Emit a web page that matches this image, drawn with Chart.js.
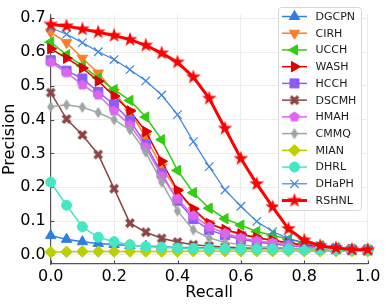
<!DOCTYPE html>
<html>
<head>
<meta charset="utf-8">
<script src="https://cdn.jsdelivr.net/npm/chart.js@4.4.1/dist/chart.umd.min.js"></script>
<style>
  html, body { margin: 0; padding: 0; background: #fff; }
  canvas { display: block; }
</style>
</head>
<body>
<canvas id="pr-chart" width="387" height="304"></canvas>
<script>
const recall = [0, 0.05, 0.1, 0.15, 0.2, 0.25, 0.3, 0.35, 0.4, 0.45, 0.5,
  0.55, 0.6, 0.65, 0.7, 0.75, 0.8, 0.85, 0.9, 0.95, 1.0];
const xTicks = [0, 0.2, 0.4, 0.6, 0.8, 1.0];
const yTicks = [0, 0.1, 0.2, 0.3, 0.4, 0.5, 0.6, 0.7];

const methods = ["DGCPN", "CIRH", "UCCH", "WASH", "HCCH", "DSCMH",
  "HMAH", "CMMQ", "MIAN", "DHRL", "DHaPH", "RSHNL"];

const dgcpn = [0.057, 0.046, 0.039, 0.034, 0.031, 0.028, 0.026, 0.024, 0.022, 0.021, 0.020,
  0.019, 0.018, 0.018, 0.017, 0.017, 0.016, 0.016, 0.015, 0.015, 0.015];
const cirh = [0.659, 0.628, 0.582, 0.538, 0.482, 0.423, 0.348, 0.260, 0.188, 0.132, 0.092,
  0.073, 0.060, 0.050, 0.042, 0.035, 0.028, 0.022, 0.018, 0.016, 0.015];
const ucch = [0.630, 0.592, 0.559, 0.524, 0.489, 0.457, 0.408, 0.341, 0.250, 0.184, 0.138,
  0.107, 0.088, 0.069, 0.058, 0.046, 0.036, 0.027, 0.021, 0.017, 0.015];
const wash = [0.610, 0.582, 0.553, 0.514, 0.470, 0.426, 0.365, 0.277, 0.191, 0.136, 0.093,
  0.075, 0.062, 0.051, 0.043, 0.036, 0.029, 0.023, 0.018, 0.016, 0.015];
const hcch = [0.576, 0.545, 0.522, 0.482, 0.445, 0.398, 0.327, 0.241, 0.160, 0.106, 0.074,
  0.058, 0.046, 0.038, 0.032, 0.028, 0.024, 0.020, 0.017, 0.015, 0.014];
const dscmh = [0.480, 0.402, 0.355, 0.297, 0.196, 0.094, 0.067, 0.049, 0.038, 0.030, 0.026,
  0.023, 0.021, 0.019, 0.018, 0.017, 0.016, 0.015, 0.015, 0.014, 0.014];
const hmah = [0.570, 0.539, 0.503, 0.473, 0.426, 0.384, 0.318, 0.233, 0.165, 0.116, 0.083,
  0.064, 0.050, 0.042, 0.036, 0.030, 0.025, 0.021, 0.018, 0.016, 0.015];
const cmmq = [0.438, 0.444, 0.437, 0.421, 0.400, 0.370, 0.304, 0.215, 0.130, 0.074, 0.050,
  0.037, 0.030, 0.025, 0.022, 0.020, 0.018, 0.017, 0.016, 0.015, 0.014];
const mian = [0.008, 0.009, 0.010, 0.010, 0.010, 0.010, 0.010, 0.010, 0.010, 0.011, 0.011,
  0.011, 0.011, 0.011, 0.011, 0.011, 0.011, 0.011, 0.011, 0.011, 0.011];
const dhrl = [0.215, 0.147, 0.083, 0.052, 0.039, 0.030, 0.025, 0.022, 0.020, 0.019, 0.018,
  0.018, 0.017, 0.017, 0.017, 0.016, 0.016, 0.016, 0.015, 0.015, 0.015];
const dhaph = [0.672, 0.653, 0.628, 0.601, 0.578, 0.548, 0.515, 0.473, 0.415, 0.335, 0.261,
  0.192, 0.144, 0.099, 0.069, 0.048, 0.036, 0.027, 0.021, 0.017, 0.015];
const rshnl = [0.682, 0.677, 0.668, 0.659, 0.649, 0.637, 0.620, 0.597, 0.570, 0.526, 0.463,
  0.374, 0.285, 0.210, 0.142, 0.077, 0.043, 0.027, 0.020, 0.016, 0.015];

const values = [dgcpn, cirh, ucch, wash, hcch, dscmh, hmah, cmmq, mian, dhrl, dhaph, rshnl];

// small canvases for the matplotlib-like markers chart.js doesn't have
function marker(size, color, path) {
  const c = document.createElement("canvas");
  c.width = size;
  c.height = size;
  const g = c.getContext("2d");
  g.translate(size / 2, size / 2);
  g.fillStyle = color;
  g.beginPath();
  path(g);
  g.closePath();
  g.fill();
  return c;
}

function starPath(g) {
  const R = 7.8, r = R * 0.382;
  for (let i = 0; i < 10; i++) {
    const a = -Math.PI / 2 + i * Math.PI / 5;
    const rr = i % 2 ? r : R;
    g.lineTo(rr * Math.cos(a), rr * Math.sin(a));
  }
}

function xPath(g) {
  const L = 5.2, a = 1.7;
  const pts = [[-a, -L], [a, -L], [a, -a], [L, -a], [L, a], [a, a],
    [a, L], [-a, L], [-a, a], [-L, a], [-L, -a], [-a, -a]];
  g.rotate(Math.PI / 4);
  pts.forEach(p => g.lineTo(p[0], p[1]));
}

function pentagonPath(g) {
  const R = 5.6;
  for (let i = 0; i < 5; i++) {
    const a = -Math.PI / 2 + i * 2 * Math.PI / 5;
    g.lineTo(R * Math.cos(a), R * Math.sin(a));
  }
}

function thinDiamondPath(g) {
  g.moveTo(0, -5.8);
  g.lineTo(3.6, 0);
  g.lineTo(0, 5.8);
  g.lineTo(-3.6, 0);
}

const styles = [
  { color: "#2f7fe0", point: "triangle", radius: 6, rotation: 0, width: 1.5 },
  { color: "#ff7f27", point: "triangle", radius: 6, rotation: 180, width: 1.5 },
  { color: "#33cc11", point: "triangle", radius: 6, rotation: 270, width: 1.5 },
  { color: "#dd0000", point: "triangle", radius: 6, rotation: 90, width: 1.5 },
  { color: "#8d5cf6", point: "rect", radius: 6.4, rotation: 0, width: 1.5 },
  { color: "#8c4444", point: "X", radius: 5, rotation: 0, width: 1.5 },
  { color: "#dd66ee", point: "pentagon", radius: 5.5, rotation: 0, width: 1.5 },
  { color: "#9ba6a5", point: "thin", radius: 5, rotation: 0, width: 1.5 },
  { color: "#bbd000", point: "rectRot", radius: 5.8, rotation: 0, width: 1.5 },
  { color: "#44e6c4", point: "circle", radius: 5, rotation: 0, width: 1.5 },
  { color: "#3a86dd", point: "crossRot", radius: 6, rotation: 0, width: 1.2 },
  { color: "#ff0000", point: "star", radius: 8, rotation: 0, width: 3 },
];

function pointStyleFor(s) {
  if (s.point === "star") return marker(18, s.color, starPath);
  if (s.point === "X") return marker(14, s.color, xPath);
  if (s.point === "pentagon") return marker(14, s.color, pentagonPath);
  if (s.point === "thin") return marker(14, s.color, thinDiamondPath);
  return s.point;
}

const datasets = methods.map((name, i) => {
  const s = styles[i];
  return {
    label: name,
    data: recall.map((r, j) => ({ x: r, y: values[i][j] })),
    borderColor: s.color,
    backgroundColor: s.color,
    borderWidth: s.width,
    pointStyle: pointStyleFor(s),
    pointRadius: s.radius,
    pointRotation: s.rotation,
    pointBackgroundColor: s.color,
    pointBorderColor: s.color,
    pointBorderWidth: s.point === "crossRot" ? 1.2 : 1,
    fill: false,
    tension: 0,
    clip: false,
    order: methods.length - i,
  };
});

const FONT = "'DejaVu Sans', sans-serif";

// legend with line + marker samples, drawn inside the plot (upper right)
const lineLegend = {
  id: "lineLegend",
  afterDraw(chart) {
    const ctx = chart.ctx;
    const bx = 278.5, by = 7.5, bw = 83, bh = 203;
    ctx.save();
    ctx.fillStyle = "rgba(255,255,255,0.85)";
    ctx.strokeStyle = "#d6d6d6";
    ctx.lineWidth = 1;
    ctx.beginPath();
    ctx.roundRect(bx, by, bw, bh, 3);
    ctx.fill();
    ctx.stroke();
    ctx.font = "11px " + FONT;
    ctx.textBaseline = "middle";
    chart.data.datasets.forEach((ds, i) => {
      const y = 16.5 + i * 16.73;
      ctx.strokeStyle = ds.borderColor;
      ctx.lineWidth = ds.borderWidth;
      ctx.beginPath();
      ctx.moveTo(282, y);
      ctx.lineTo(307, y);
      ctx.stroke();
      ctx.fillStyle = ds.pointBackgroundColor;
      ctx.strokeStyle = ds.pointBorderColor;
      ctx.lineWidth = ds.pointBorderWidth;
      Chart.helpers.drawPoint(ctx, {
        pointStyle: ds.pointStyle,
        radius: ds.pointRadius,
        rotation: ds.pointRotation,
        borderWidth: ds.pointBorderWidth,
      }, 294.5, y);
      ctx.fillStyle = "#1a1a1a";
      ctx.fillText(ds.label, 315.5, y + 0.5);
    });
    ctx.restore();
  },
};

// short inward tick marks like matplotlib
const innerTicks = {
  id: "innerTicks",
  beforeDatasetsDraw(chart) {
    const { ctx, chartArea, scales } = chart;
    ctx.save();
    ctx.strokeStyle = "#444";
    ctx.lineWidth = 1;
    ctx.beginPath();
    xTicks.forEach(v => {
      const px = Math.round(scales.x.getPixelForValue(v)) + 0.5;
      ctx.moveTo(px, chartArea.bottom);
      ctx.lineTo(px, chartArea.bottom - 3.5);
    });
    yTicks.forEach(v => {
      const py = Math.round(scales.y.getPixelForValue(v)) + 0.5;
      ctx.moveTo(chartArea.left, py);
      ctx.lineTo(chartArea.left + 3.5, py);
    });
    ctx.stroke();
    ctx.restore();
  },
};

const config = {
  type: "line",
  data: { datasets: datasets },
  options: {
    responsive: false,
    devicePixelRatio: 1,
    animation: false,
    events: [],
    layout: {
      padding: { top: 2, right: 19.3, left: 0, bottom: 0 },
    },
    plugins: {
      legend: { display: false },
      tooltip: { enabled: false },
    },
    scales: {
      x: {
        type: "linear",
        min: 0,
        max: 1.0,
        afterBuildTicks: (scale) => {
          scale.ticks = xTicks.map(v => ({ value: v }));
        },
        afterFit: (scale) => {
          scale.height = 40;
        },
        ticks: {
          font: { family: FONT, size: 16 },
          color: "#000",
          padding: 3,
          maxRotation: 0,
          callback: (v) => Number(v).toFixed(1),
        },
        grid: { color: "#ececec", lineWidth: 1, drawTicks: false },
        border: { color: "#555", width: 1.2 },
        title: {
          display: true,
          text: "Recall",
          font: { family: FONT, size: 16 },
          color: "#000",
          padding: { top: 0, bottom: 2 },
        },
      },
      y: {
        type: "linear",
        min: -0.027,
        max: 0.711,
        afterBuildTicks: (scale) => {
          scale.ticks = yTicks.map(v => ({ value: v }));
        },
        afterFit: (scale) => {
          scale.width = 50.7;
        },
        ticks: {
          font: { family: FONT, size: 16 },
          color: "#000",
          padding: 5,
          callback: (v) => Number(v).toFixed(1),
        },
        grid: { color: "#ececec", lineWidth: 1, drawTicks: false },
        border: { color: "#555", width: 1.2 },
        title: {
          display: true,
          text: "Precision",
          font: { family: FONT, size: 16 },
          color: "#000",
          padding: { top: 0, bottom: 0 },
        },
      },
    },
  },
  plugins: [innerTicks, lineLegend],
};

const prChart = new Chart(document.getElementById("pr-chart"), config);
</script>
</body>
</html>
